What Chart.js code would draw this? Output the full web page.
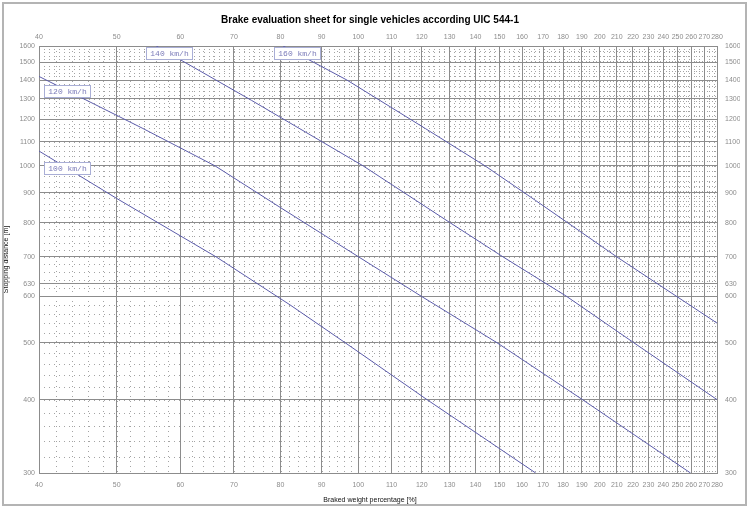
<!DOCTYPE html>
<html>
<head>
<meta charset="utf-8">
<script src="https://cdn.jsdelivr.net/npm/chart.js@4.4.1/dist/chart.umd.min.js"></script>
<style>
  html, body { margin: 0; padding: 0; background: #fff; }
  #wrap { position: relative; width: 750px; height: 508px; }
  #frame { position: absolute; left: 2px; top: 2px; width: 745px; height: 504px; box-sizing: border-box; border: 2px solid #b4b4b4; pointer-events: none; }
  canvas { position: absolute; left: 0; top: 0; }
</style>
</head>
<body>
<div id="wrap">
  <canvas id="brakeChart" width="750" height="508"></canvas>
  <div id="frame"></div>
</div>
<script>
// axis ticks
var xTicks = [40, 50, 60, 70, 80, 90, 100, 110, 120, 130, 140, 150, 160, 170, 180, 190, 200, 210, 220, 230, 240, 250, 260, 270, 280];
var yTicks = [300, 400, 500, 600, 630, 700, 800, 900, 1000, 1100, 1200, 1300, 1400, 1500, 1600];

// speed curves: [braked weight %, stopping distance m]
var speeds = ['100 km/h', '120 km/h', '140 km/h', '160 km/h'];
var curve100 = [[40, 1060], [50, 880], [66.5, 700], [82.2, 580], [96.3, 500], [121.8, 400], [166.4, 300]];
var curve120 = [[40, 1420], [53.9, 1158], [66.3, 1000], [79.9, 850], [100.1, 700], [119.8, 600], [148.9, 500], [190.3, 400], [259.5, 300]];
var curve140 = [[56, 1600], [73.6, 1293], [101.4, 1000], [130.2, 800], [151.5, 700], [181.7, 600], [220.5, 500], [280, 400]];
var curve160 = [[80.6, 1600], [96.8, 1400], [121.2, 1158], [143.9, 1000], [166.2, 874], [210, 700], [280, 540]];

var curves = [curve100, curve120, curve140, curve160];
var lineColor = 'rgb(92,92,170)';
var gridColor = '#8c8c8c';
var tickFont = { family: 'Liberation Sans', size: 7 };

function fixedTicks(values) {
    return function (scale) {
        scale.ticks = values.map(function (v) { return { value: v }; });
    };
}

function tickLabel(value) {
    return String(value);
}

// dotted minor grid under the main grid
var minorGrid = {
    id: 'minorGrid',
    beforeDraw: function (chart) {
        var ctx = chart.ctx;
        var area = chart.chartArea;
        var xs = chart.scales.x;
        var ys = chart.scales.y;
        ctx.save();
        ctx.strokeStyle = '#a4a4a4';
        ctx.lineWidth = 1;
        ctx.setLineDash([1, 4]);
        ctx.beginPath();
        for (var v = 42; v < 280; v += 2) {
            var px = Math.round(xs.getPixelForValue(v)) + 0.5;
            ctx.moveTo(px, area.top);
            ctx.lineTo(px, area.bottom);
        }
        for (var w = 320; w < 1600; w += 20) {
            var py = Math.round(ys.getPixelForValue(w)) + 0.5;
            ctx.moveTo(area.left, py);
            ctx.lineTo(area.right, py);
        }
        ctx.stroke();
        ctx.restore();
    }
};

// boxed speed labels sitting on each curve
var speedBoxes = {
    id: 'speedBoxes',
    afterDatasetsDraw: function (chart, args, opts) {
        var ctx = chart.ctx;
        var xs = chart.scales.x;
        ctx.save();
        ctx.font = '8px "Liberation Mono"';
        ctx.textAlign = 'center';
        ctx.textBaseline = 'middle';
        ctx.lineWidth = 1;
        chart.data.datasets.forEach(function (ds, i) {
            var pts = chart.getDatasetMeta(i).data;
            var px = xs.getPixelForValue(opts.at[i]);
            var py = pts[0].y;
            for (var k = 1; k < pts.length; k++) {
                if (pts[k].x >= px) {
                    var p0 = pts[k - 1], p1 = pts[k];
                    py = p0.y + (p1.y - p0.y) * (px - p0.x) / (p1.x - p0.x);
                    break;
                }
            }
            var w = Math.round(ctx.measureText(ds.label).width + 8);
            var h = 12;
            var bx = Math.round(px - w / 2) + 0.5;
            var by = Math.round(py - h / 2) + 0.5;
            ctx.fillStyle = '#fff';
            ctx.fillRect(bx, by, w, h);
            ctx.strokeStyle = '#a9aed6';
            ctx.strokeRect(bx, by, w, h);
            ctx.fillStyle = '#7a7ab8';
            ctx.fillText(ds.label, bx + w / 2, by + h / 2 + 0.5);
        });
        ctx.restore();
    }
};

var datasets = curves.map(function (c, i) {
    return {
        label: speeds[i],
        data: c.map(function (p) { return { x: p[0], y: p[1] }; }),
        showLine: true,
        borderColor: lineColor,
        borderWidth: 1,
        pointRadius: 0,
        fill: false,
        tension: 0
    };
});

var ctx = document.getElementById('brakeChart').getContext('2d');
var brakeChart = new Chart(ctx, {
    type: 'scatter',
    data: { datasets: datasets },
    plugins: [minorGrid, speedBoxes],
    options: {
        responsive: false,
        animation: false,
        devicePixelRatio: 1,
        layout: { padding: { left: 0, right: 10, top: 0, bottom: 0 } },
        plugins: {
            legend: { display: false },
            tooltip: { enabled: false },
            title: {
                display: true,
                text: 'Brake evaluation sheet for single vehicles according UIC 544-1',
                color: '#000',
                font: { family: 'Liberation Sans', size: 10, weight: 'bold' },
                padding: { top: 14, bottom: 0 }
            },
            subtitle: {
                display: true,
                position: 'bottom',
                text: 'Braked weight percentage [%]',
                color: '#111',
                font: { family: 'Liberation Sans', size: 7 },
                padding: { top: 0, bottom: 4 }
            },
            speedBoxes: { at: [43.3, 43.4, 58.1, 83.8] }
        },
        scales: {
            x: {
                type: 'logarithmic',
                position: 'bottom',
                min: 40,
                max: 280,
                afterBuildTicks: fixedTicks(xTicks),
                afterFit: function (s) { s.height = 22.6; },
                ticks: { autoSkip: false, maxRotation: 0, padding: 8, color: '#8c8c8c', font: tickFont, callback: tickLabel },
                grid: { color: gridColor, lineWidth: 1, drawTicks: false },
                border: { color: gridColor }
            },
            xTop: {
                type: 'logarithmic',
                position: 'top',
                min: 40,
                max: 280,
                afterBuildTicks: fixedTicks(xTicks),
                afterFit: function (s) { s.height = 20; },
                ticks: { autoSkip: false, maxRotation: 0, padding: 5, color: '#8c8c8c', font: tickFont, callback: tickLabel },
                grid: { display: false, drawTicks: false },
                border: { color: gridColor }
            },
            y: {
                type: 'logarithmic',
                position: 'left',
                min: 300,
                max: 1600,
                afterBuildTicks: fixedTicks(yTicks),
                afterFit: function (s) { s.width = 39; },
                ticks: { autoSkip: false, padding: 4, color: '#8c8c8c', font: tickFont, callback: tickLabel },
                grid: { color: gridColor, lineWidth: 1, drawTicks: false },
                border: { color: gridColor },
                title: {
                    display: true,
                    text: 'Stopping distance [m]',
                    color: '#111',
                    font: { family: 'Liberation Sans', size: 7 },
                    padding: { top: 2, bottom: 0 }
                }
            },
            yRight: {
                type: 'logarithmic',
                position: 'right',
                min: 300,
                max: 1600,
                afterBuildTicks: fixedTicks(yTicks),
                afterFit: function (s) { s.width = 23; },
                ticks: { autoSkip: false, padding: 8, color: '#8c8c8c', font: tickFont, callback: tickLabel },
                grid: { display: false, drawTicks: false },
                border: { color: gridColor }
            }
        }
    }
});
</script>
</body>
</html>
